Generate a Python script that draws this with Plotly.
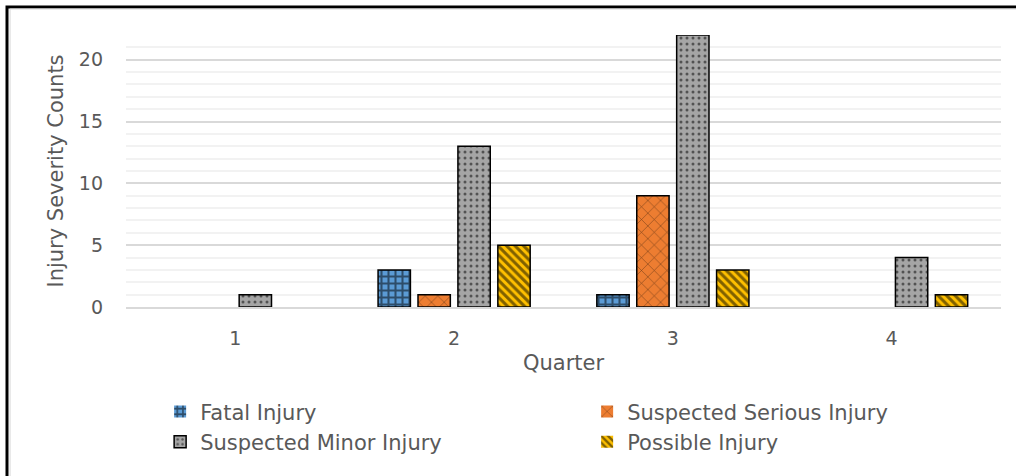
import plotly.graph_objects as go

quarters = ["1", "2", "3", "4"]
fatal = [0, 3, 1, 0]
serious = [0, 1, 9, 0]
minor = [1, 13, 22, 4]
possible = [0, 5, 3, 1]

series = [
    ("Fatal Injury", fatal, "#5B9BD5", "+", 0.5, 7),
    ("Suspected Serious Injury", serious, "#ED7D31", "x", 0.12, 9),
    ("Suspected Minor Injury", minor, "#A5A5A5", ".", 0.2, 6),
    ("Possible Injury", possible, "#FFC000", "\\", 0.5, 6),
]

fig = go.Figure()
for name, vals, color, shape, sol, size in series:
    fig.add_trace(go.Bar(
        name=name, x=quarters, y=vals,
        marker=dict(color=color,
                    line=dict(color="black", width=[1.5 if v > 0 else 0 for v in vals]),
                    pattern=dict(shape=shape, fgcolor="black", bgcolor=color,
                                 solidity=sol, size=size, fillmode="overlay")),
    ))

font = "DejaVu Sans"
fig.update_layout(
    width=1016, height=476,
    margin=dict(l=126, r=15, t=35, b=169, autoexpand=False),
    paper_bgcolor="white", plot_bgcolor="white",
    barmode="group", bargap=0.27, bargroupgap=0.19,
    font=dict(family=font, size=19, color="#595959"),
    xaxis=dict(title=dict(text="Quarter", standoff=8, font=dict(size=21)),
               showline=True, linecolor="#D9D9D9", linewidth=1.5,
               ticks="", tickfont=dict(size=19), ticklabelstandoff=13),
    yaxis=dict(title=dict(text="Injury Severity Counts", standoff=9, font=dict(size=21)),
               range=[0, 22], dtick=5, tick0=0,
               showgrid=True, gridcolor="#D9D9D9", gridwidth=1.5,
               minor=dict(dtick=1, showgrid=True, gridcolor="#F2F2F2", gridwidth=1.5),
               zeroline=False, tickfont=dict(size=19), ticklabelstandoff=22),
    legend=dict(orientation="h", x=0.039, y=-0.31, xanchor="left", yanchor="top",
                entrywidth=382, entrywidthmode="pixels", traceorder="normal",
                font=dict(size=21, color="#595959"), itemwidth=30),
    showlegend=True,
)

fig.add_shape(type="rect", xref="paper", yref="paper",
              x0=-0.136, x1=1.2, y0=-1.0, y1=1.103,
              line=dict(color="black", width=3), fillcolor="rgba(0,0,0,0)", layer="above")
fig.add_shape(type="rect", xref="paper", yref="paper",
              x0=-0.1325, x1=1.2, y0=-1.0, y1=1.0955,
              line=dict(color="#D9D9D9", width=1), fillcolor="rgba(0,0,0,0)", layer="above")

fig.write_html("out.html", config={"displayModeBar": False},
               post_script="document.body.style.margin='0';")
